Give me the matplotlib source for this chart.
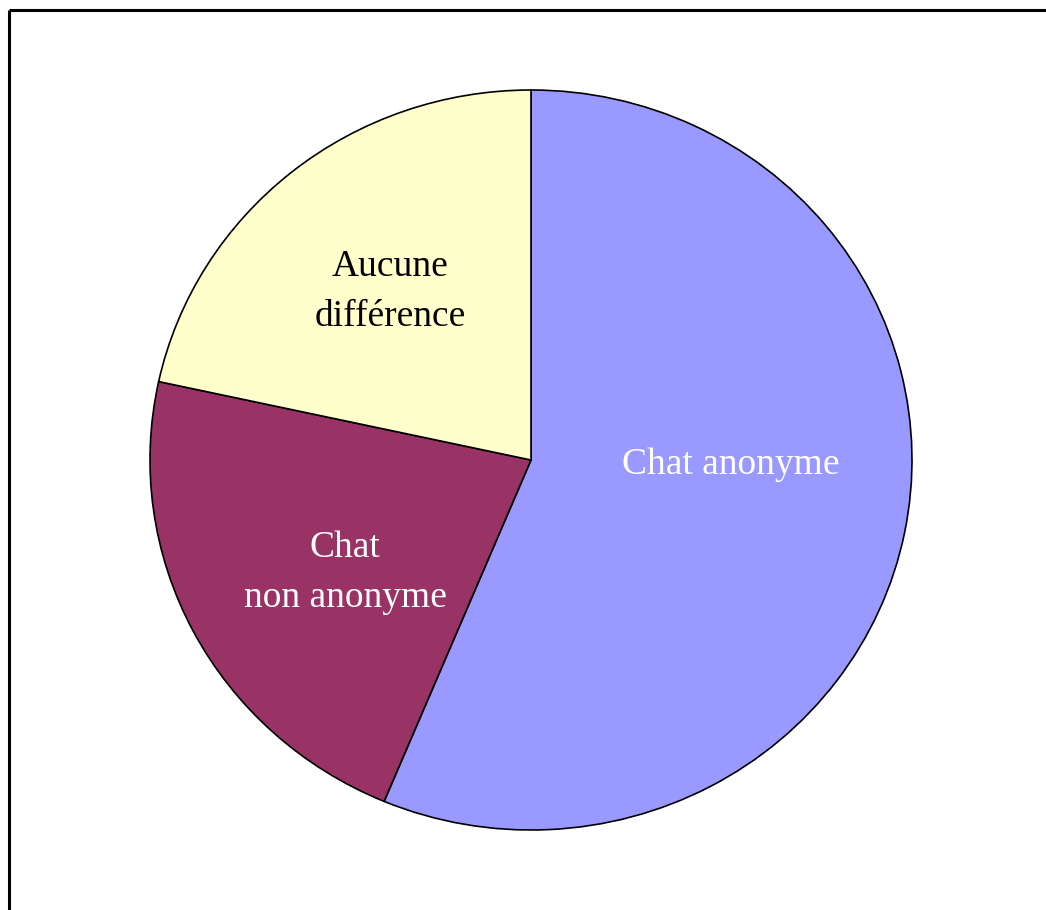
import matplotlib.pyplot as plt
from matplotlib.lines import Line2D

labels = ['Chat anonyme', 'Chat\nnon anonyme', 'Aucune\ndifférence']
values = [56.3, 22.1, 21.6]
colors = ['#9999FF', '#993366', '#FFFFCC']
text_colors = ['white', 'white', 'black']

W, H = 1046, 910
fig = plt.figure(figsize=(W / 100, H / 100), dpi=100)
fig.patch.set_facecolor('white')

# pie centre / radii in pixels (slightly wider than tall, like the original)
cx, cy, rx, ry = 531, 460, 381, 370
ax = fig.add_axes([0, 0, 1, 1])
ax.pie(values, colors=colors, startangle=90, counterclock=False,
       wedgeprops=dict(edgecolor='black', linewidth=1.2))
ax.set_aspect('auto')
ax.set_xlim(-cx / rx, (W - cx) / rx)
ax.set_ylim(-(H - cy) / ry, cy / ry)
ax.axis('off')

# label positions in pixels
label_pos = [(731, 465), (345, 573), (390, 292)]
for lab, (px, py), tc in zip(labels, label_pos, text_colors):
    fig.text(px / W, 1 - py / H, lab, ha='center', va='center', color=tc,
             fontsize=27, family='Liberation Serif', linespacing=1.6)

# frame: only top and left edges fall inside the picture
top = 1 - 9.5 / H
left = 8.5 / W
fig.lines.append(Line2D([left, 1.01, ], [top, top], transform=fig.transFigure,
                        color='black', linewidth=2.2, solid_capstyle='butt'))
fig.lines.append(Line2D([left, left], [-0.01, top], transform=fig.transFigure,
                        color='black', linewidth=2.2, solid_capstyle='butt'))

fig.savefig('out.png', dpi=100)
